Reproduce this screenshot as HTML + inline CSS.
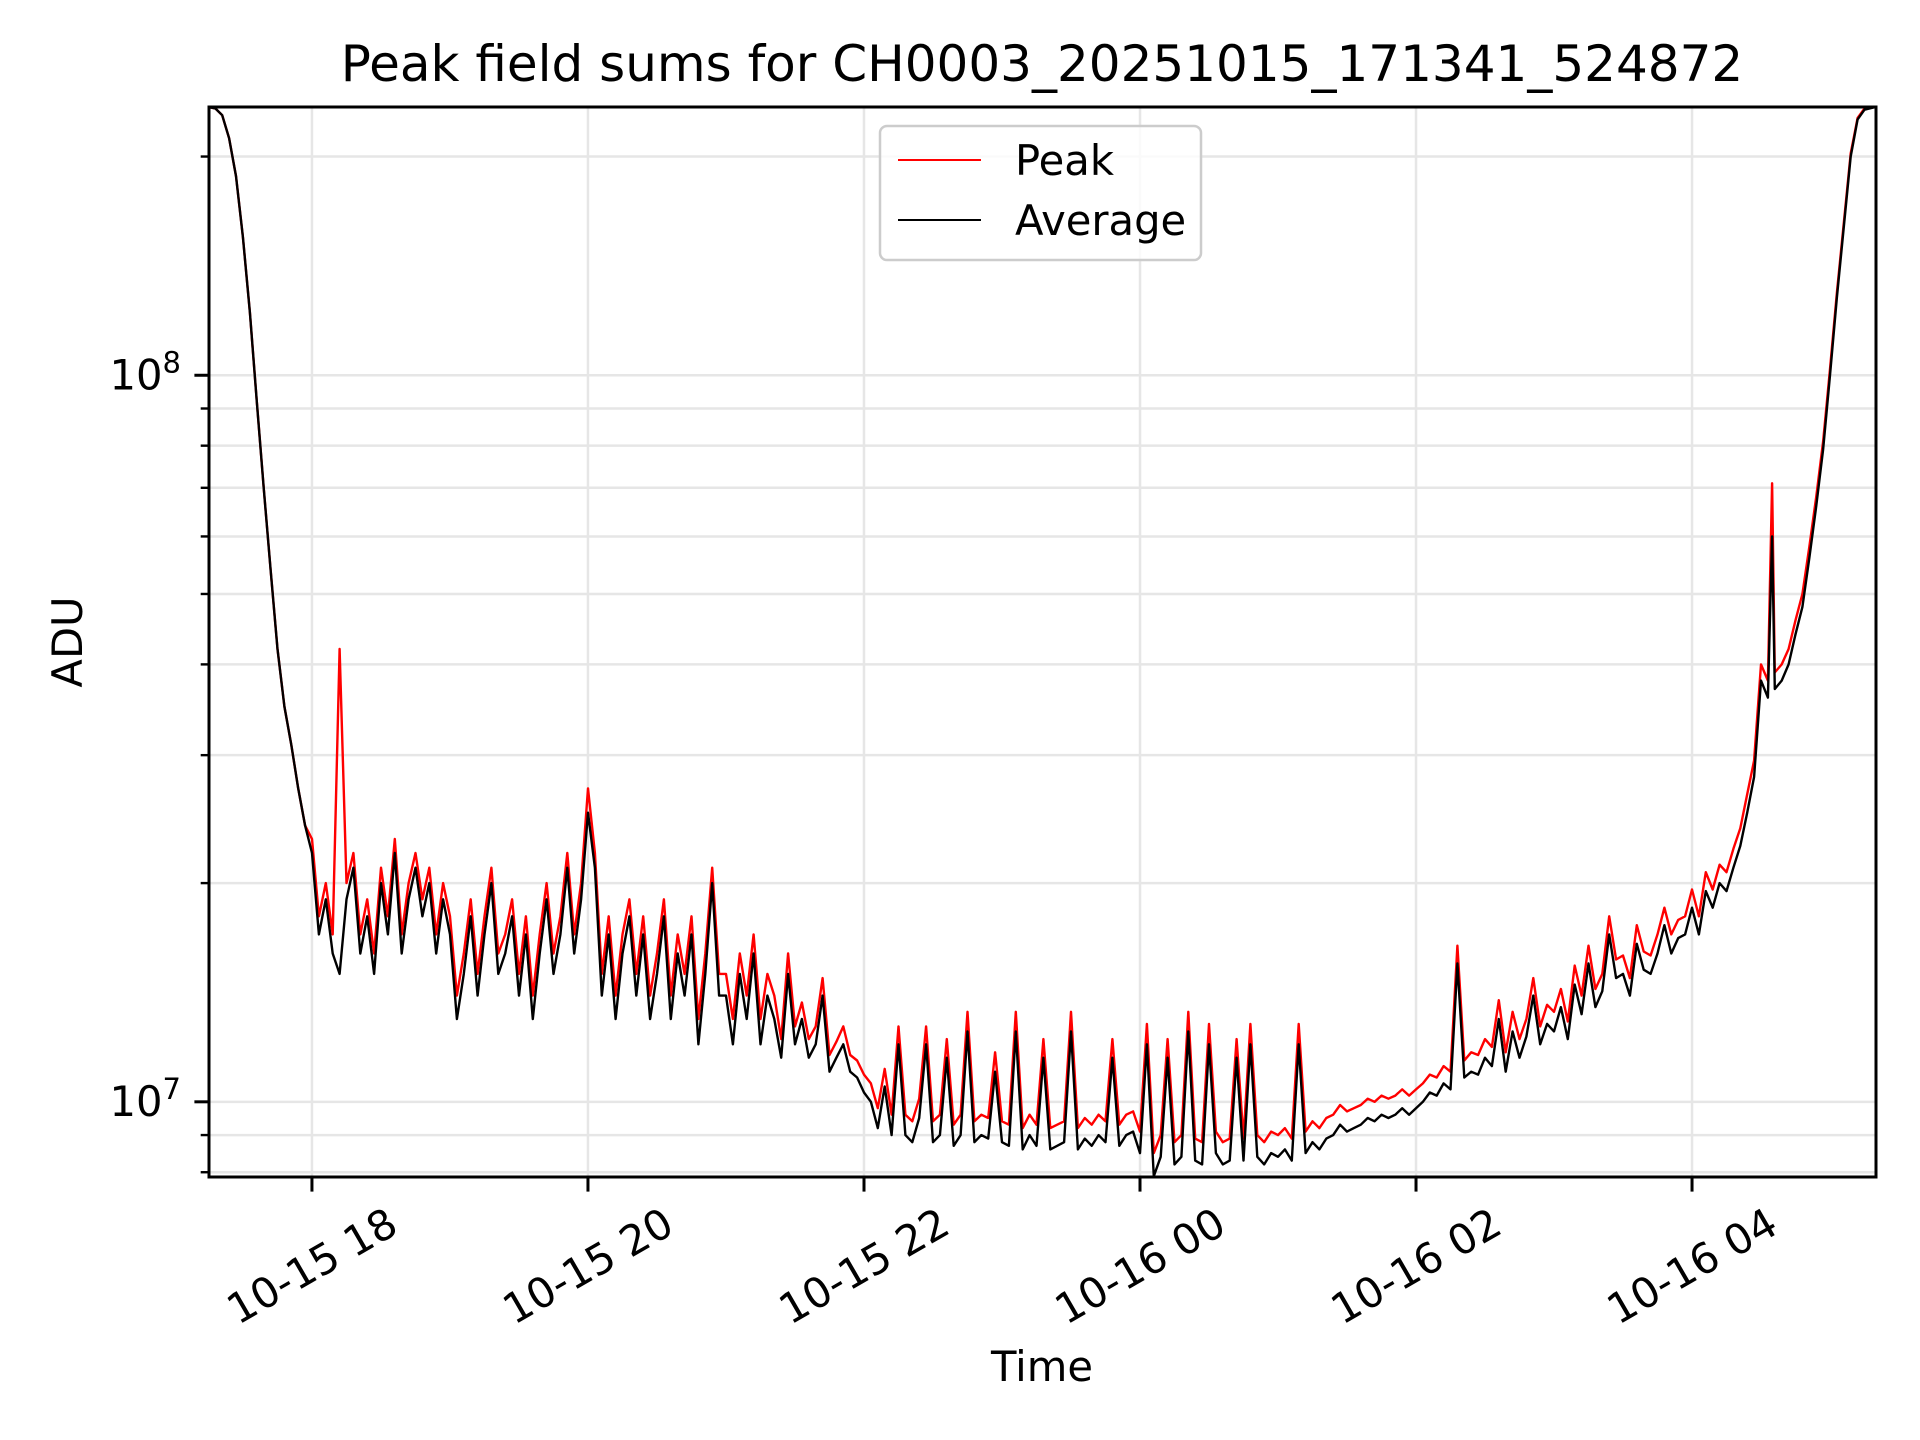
<!DOCTYPE html>
<html>
<head>
<meta charset="utf-8">
<style>
  html, body { margin: 0; padding: 0; background: #fff; }
  svg { display: block; }
  text { font-family: "DejaVu Sans", "Liberation Sans", sans-serif; fill: #000; }
</style>
</head>
<body>
<svg id="chart" xmlns="http://www.w3.org/2000/svg" width="1920" height="1440" viewBox="0 0 1920 1440">
  <rect x="0" y="0" width="1920" height="1440" fill="#fff"/>
  <g id="grid"></g>
  <g id="plot"></g>
  <rect x="209" y="107" width="1667" height="1070" fill="none" stroke="#000" stroke-width="3"/>
  <g id="xticks"></g>
  <g id="yticks"></g>
  <text x="1042" y="81" font-size="50" text-anchor="middle">Peak field sums for CH0003_20251015_171341_524872</text>
  <text x="1042" y="1381" font-size="41.7" text-anchor="middle">Time</text>
  <text transform="translate(82,642) rotate(-90)" font-size="41.7" text-anchor="middle">ADU</text>
  <g>
    <rect x="880" y="126" width="321" height="134" rx="7" fill="#fff" fill-opacity="0.8" stroke="#cccccc" stroke-width="2.5"/>
    <g>
      <line x1="898" y1="160" x2="981" y2="160" stroke="#ff0000" stroke-width="2"/>
      <text x="1015" y="175" font-size="41.7">Peak</text>
    </g>
    <g>
      <line x1="898" y1="220" x2="981" y2="220" stroke="#000" stroke-width="2"/>
      <text x="1015" y="235" font-size="41.7">Average</text>
    </g>
  </g>
</svg>
<script>
// hours since 2025-10-15 00:00
const headTimes = [17.25,17.30,17.35,17.40,17.45,17.50,17.55,17.60,17.65,17.70,17.75,17.80,17.85,17.90,17.95];
const headAvg = [234,233,228,212,188,155,122,92,70,54,42,35,31,27,24];
const headPeak = [234,233,228,212,188,155,122,92,70,54,42,35,31,27,24];
// noisy middle, sampled every 0.05 h from 18.00 to 28.40 (values in millions ADU)
const midStart = 18.0;
const midStep = 0.05;
const midAvg = [
22,17,19,16,15,19,21,16,18,15,20,17,22,16,19,21,18,20,16,19,
17,13,15,18,14,17,20,15,16,18,14,17,13,16,19,15,17,21,16,19,
25,21,14,17,13,16,18,14,17,13,15,18,13,16,14,17,12,15,20,14,
14,12,15,13,16,12,14,13,11.5,15,12,13,11.5,12,14,11,11.5,12,11,10.8,
10.3,10,9.2,10.5,9,12,9,8.8,9.5,12,8.8,9,11.5,8.7,9,12.5,8.8,9,8.9,11,
8.8,8.7,12.5,8.6,9,8.7,11.5,8.6,8.7,8.8,12.5,8.6,8.9,8.7,9,8.8,11.5,8.7,9,9.1,
8.5,12,7.9,8.4,11.5,8.2,8.4,12.5,8.3,8.2,12,8.5,8.2,8.3,11.5,8.3,12,8.4,8.2,8.5,
8.4,8.6,8.3,12,8.5,8.8,8.6,8.9,9,9.3,9.1,9.2,9.3,9.5,9.4,9.6,9.5,9.6,9.8,9.6,
9.8,10,10.3,10.2,10.6,10.4,15.5,10.8,11,10.9,11.5,11.2,13,11,12.5,11.5,12.3,14,12,12.8,
12.5,13.5,12.2,14.5,13.2,15.5,13.5,14.2,17,14.8,15,14,16.5,15.2,15,16,17.5,16,16.8,17,
18.5,17,19.5,18.5,20,19.5,21,22.5,25];
const midPeak = [
23,18,20,17,42,20,22,17,19,16,21,18,23,17,20,22,19,21,17,20,
18,14,16,19,15,18,21,16,17,19,15,18,14,17,20,16,18,22,17,20,
27,22,15,18,14,17,19,15,18,14,16,19,14,17,15,18,13,16,21,15,
15,13,16,14,17,13,15,14,12.2,16,12.7,13.7,12.2,12.7,14.8,11.6,12.1,12.7,11.6,11.4,
10.9,10.6,9.8,11.1,9.6,12.7,9.6,9.4,10.1,12.7,9.4,9.6,12.2,9.3,9.6,13.3,9.4,9.6,9.5,11.7,
9.4,9.3,13.3,9.2,9.6,9.3,12.2,9.2,9.3,9.4,13.3,9.2,9.5,9.3,9.6,9.4,12.2,9.3,9.6,9.7,
9.1,12.8,8.5,9,12.2,8.8,9,13.3,8.9,8.8,12.8,9.1,8.8,8.9,12.2,8.9,12.8,9,8.8,9.1,
9,9.2,8.9,12.8,9.1,9.4,9.2,9.5,9.6,9.9,9.7,9.8,9.9,10.1,10,10.2,10.1,10.2,10.4,10.2,
10.4,10.6,10.9,10.8,11.2,11,16.4,11.4,11.7,11.6,12.2,11.9,13.8,11.7,13.3,12.2,13,14.8,12.7,13.6,
13.3,14.3,12.9,15.4,14,16.4,14.3,15,18,15.7,15.9,14.8,17.5,16.1,15.9,17,18.5,17,17.8,18,
19.6,18,20.7,19.6,21.2,20.7,22.3,23.8,26.5];
const tailTimes = [28.45,28.50,28.55,28.58,28.60,28.65,28.70,28.75,28.80,28.85,28.90,28.95,29.00,29.05,29.10,29.15,29.20,29.25,29.33];
const tailAvg = [28,38,36,60,37,38,40,44,48,56,66,79,100,128,160,200,225,232,234];
const tailPeak = [29.5,40,38,71,39,40,42,46,50,58,68,81,102,130,162,202,226,233,234];

const xTickHours = [18,20,22,24,26,28];
const xTickLabels = ["10-15 18","10-15 20","10-15 22","10-16 00","10-16 02","10-16 04"];
const yMajorExps = [7,8];

const NS = "http://www.w3.org/2000/svg";
const L = 209, R = 1876, T = 107, B = 1177;
const xMin = 17.254, xMax = 29.333;
const yLogMin = Math.log10(7.88e6), yLogMax = Math.log10(2.34e8);
function xs(h){ return L + (h - xMin) / (xMax - xMin) * (R - L); }
function ys(vM){ return B - (Math.log10(vM*1e6) - yLogMin) / (yLogMax - yLogMin) * (B - T); }
function mk(tag, attrs, parent){
  const e = document.createElementNS(NS, tag);
  for (const k in attrs) e.setAttribute(k, attrs[k]);
  parent.appendChild(e);
  return e;
}

const times = headTimes.slice();
for (let i = 0; i < midAvg.length; i++) times.push(+(midStart + i*midStep).toFixed(4));
tailTimes.forEach(t => times.push(t));
const avg = headAvg.concat(midAvg, tailAvg);
const peak = headPeak.concat(midPeak, tailPeak);

const grid = document.getElementById('grid');
const yt = document.getElementById('yticks');
const xt = document.getElementById('xticks');

for (let e = 6; e <= 8; e++) {
  for (let m = 1; m <= 9; m++) {
    const v = m * Math.pow(10, e) / 1e6;
    const y = ys(v);
    if (y < T - 0.5 || y > B + 0.5) continue;
    const gl = mk('line', {x1:L, x2:R, y1:y, y2:y, stroke:'#e6e6e6', 'stroke-width':2.5}, grid);
    
    
    const major = (m === 1);
    const tk = mk('line', {x1:L - (major ? 14.6 : 8.3), x2:L, y1:y, y2:y, stroke:'#000', 'stroke-width':major ? 3 : 2.4}, yt);
    
    
  }
}
yMajorExps.forEach(e => {
  const y = ys(Math.pow(10, e) / 1e6);
  const t = mk('text', {x:181, y:y + 14, 'font-size':41.7, 'text-anchor':'end'}, yt);
  
  
  t.appendChild(document.createTextNode('10'));
  const s = mk('tspan', {dy:-17, 'font-size':29}, t);
  s.textContent = String(e);
});

xTickHours.forEach((h, i) => {
  const x = xs(h);
  const gl = mk('line', {x1:x, x2:x, y1:T, y2:B, stroke:'#e6e6e6', 'stroke-width':2.5}, grid);
  
  
  const tk = mk('line', {x1:x, x2:x, y1:B, y2:B + 14.6, stroke:'#000', 'stroke-width':3}, xt);
  
  
  const t = mk('text', {x:0, y:0, 'font-size':41.7, 'text-anchor':'middle', 'dominant-baseline':'central',
    transform:'translate(' + x + ',1266) rotate(-30)'}, xt);
  
  
  t.textContent = xTickLabels[i];
});

const plot = document.getElementById('plot');
mk('clipPath', {id:'clip'}, plot).appendChild(document.createElementNS(NS,'rect'));
const cr = plot.querySelector('clipPath rect');
cr.setAttribute('x', L); cr.setAttribute('y', T); cr.setAttribute('width', R-L); cr.setAttribute('height', B-T);
function path(vals){
  return vals.map((v, i) => (i ? 'L' : 'M') + xs(times[i]).toFixed(1) + ',' + ys(v).toFixed(1)).join(' ');
}
const pk = mk('path', {d:path(peak), fill:'none', stroke:'#ff0000', 'stroke-width':2.4, 'stroke-linejoin':'round', 'clip-path':'url(#clip)'}, plot);


const av = mk('path', {d:path(avg), fill:'none', stroke:'#000', 'stroke-width':2.4, 'stroke-linejoin':'round', 'clip-path':'url(#clip)'}, plot);


</script>
</body>
</html>
